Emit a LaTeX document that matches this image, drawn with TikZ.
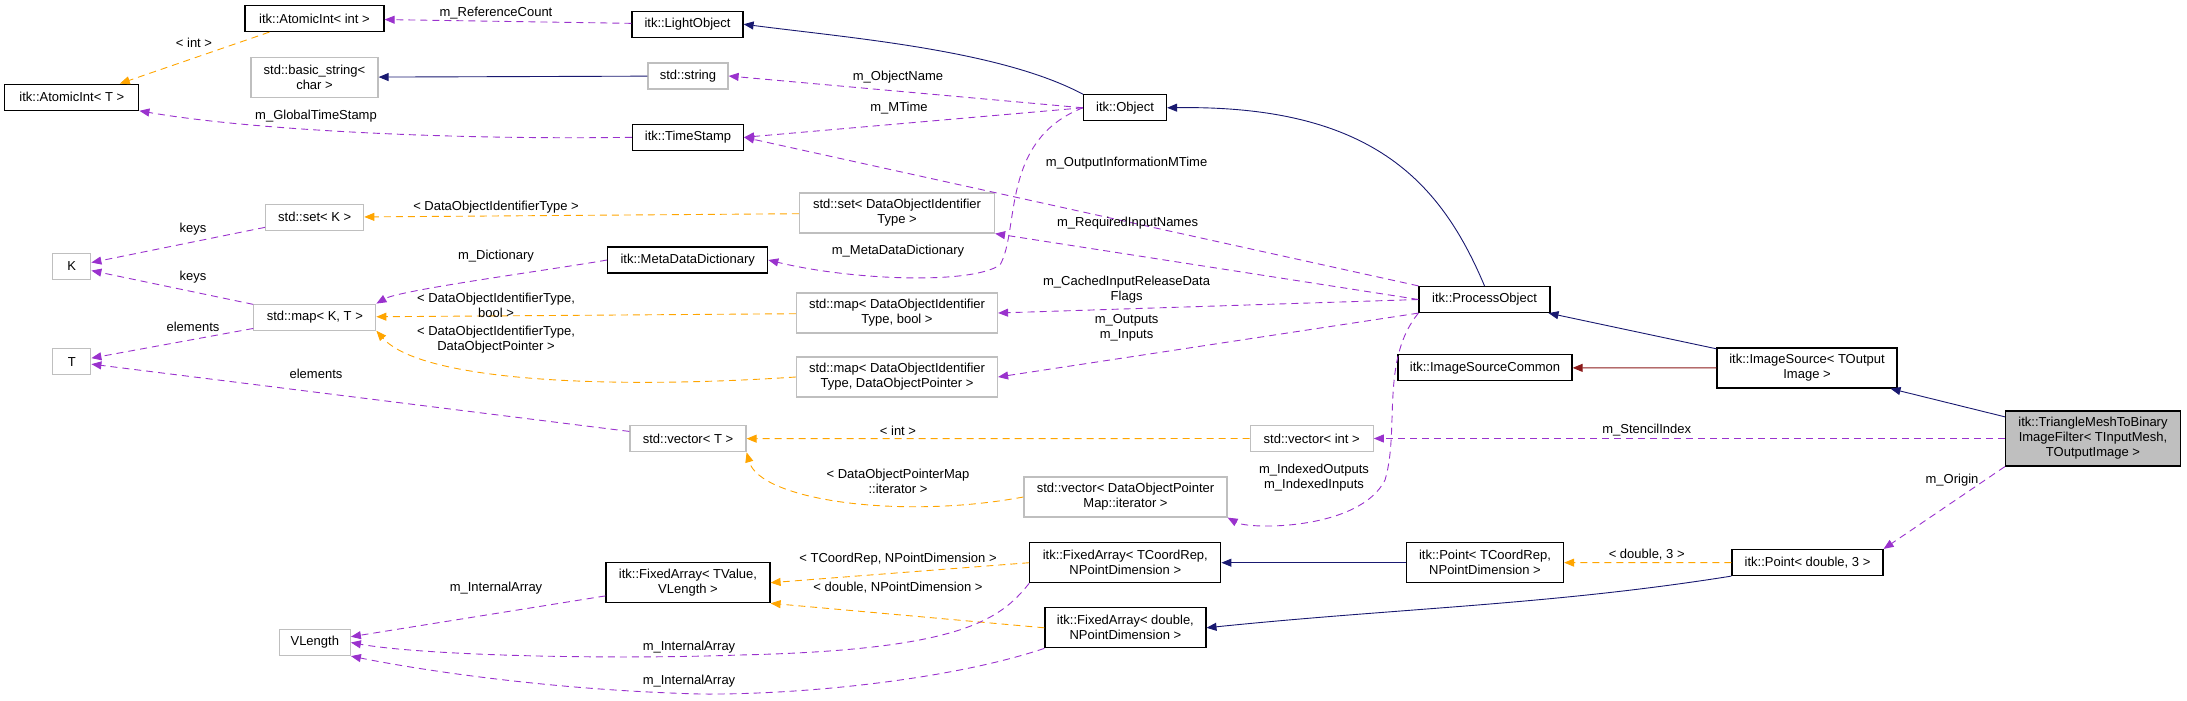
\documentclass[tikz,border=0pt]{standalone}
\usepackage{fontspec}
\setmainfont{Liberation Sans}
\usetikzlibrary{arrows.meta}
\definecolor{pur}{HTML}{9A32CD}
\definecolor{org}{HTML}{FFA500}
\definecolor{nav}{HTML}{191970}
\definecolor{drd}{HTML}{8B1A1A}
\definecolor{gbd}{HTML}{BFBFBF}
\begin{document}
\begin{tikzpicture}[x=1pt,y=-1pt,
  font=\fontsize{13}{15}\selectfont,
  box/.style={draw=black,line width=1.2pt,inner sep=0pt,align=center,minimum height=26pt,fill=white},
  ext/.style={box,draw=gbd},
  two/.style={minimum height=40pt},
  tip/.style={-{Triangle[length=10pt,width=8pt]}},
  mem/.style={tip,draw=pur,dashed,dash pattern=on 7pt off 5pt,line width=0.9pt},
  tpl/.style={tip,draw=org,dashed,dash pattern=on 7pt off 5pt,line width=0.9pt},
  inh/.style={tip,draw=nav,line width=0.9pt},
  inr/.style={tip,draw=drd,line width=0.9pt},
  lab/.style={inner sep=0pt,align=center}]
\useasboundingbox (0,0) rectangle (2187,701);
% nodes
\node[box,minimum width=134pt] (AT) at (71.8,97.2) {itk::AtomicInt< T >};
\node[box,minimum width=139pt] (AI) at (314.5,18.5) {itk::AtomicInt< int >};
\node[box,minimum width=111pt] (LO) at (687.5,24.2) {itk::LightObject};
\node[ext,two,minimum width=127pt] (BS) at (314.5,77.3) {std::basic\_string<\\char >};
\node[ext,minimum width=80pt] (SS) at (688,76) {std::string};
\node[box,minimum width=111pt] (TS) at (688,137.3) {itk::TimeStamp};
\node[ext,minimum width=98pt] (SK) at (314.7,217.3) {std::set< K >};
\node[ext,minimum width=38pt] (K) at (71.8,266.5) {K};
\node[box,minimum width=160pt] (MD) at (687.7,260) {itk::MetaDataDictionary};
\node[ext,minimum width=122pt] (MK) at (314.8,317.2) {std::map< K, T >};
\node[ext,minimum width=38pt] (T) at (71.8,361.7) {T};
\node[ext,minimum width=116pt] (VT) at (688,438.7) {std::vector< T >};
\node[box,two,minimum width=164pt] (FV) at (688,582.7) {itk::FixedArray< TValue,\\VLength >};
\node[ext,minimum width=71pt] (VL) at (314.8,642.5) {VLength};
\node[box,minimum width=83pt] (OB) at (1125,107.8) {itk::Object};
\node[ext,two,minimum width=195pt] (SD) at (897,213) {std::set< DataObjectIdentifier\\Type >};
\node[ext,two,minimum width=201pt] (MB) at (897,313) {std::map< DataObjectIdentifier\\Type, bool >};
\node[ext,two,minimum width=201pt] (MP) at (897,377) {std::map< DataObjectIdentifier\\Type, DataObjectPointer >};
\node[box,minimum width=131pt] (PO) at (1484.5,299.5) {itk::ProcessObject};
\node[ext,minimum width=123pt] (VI) at (1311.7,438.5) {std::vector< int >};
\node[ext,two,minimum width=203pt] (VM) at (1125.5,497) {std::vector< DataObjectPointer\\Map::iterator >};
\node[box,two,minimum width=191pt] (FT) at (1125.3,562.7) {itk::FixedArray< TCoordRep,\\NPointDimension >};
\node[box,two,minimum width=161pt] (FD) at (1125.4,627.8) {itk::FixedArray< double,\\NPointDimension >};
\node[box,minimum width=174pt] (IC) at (1485,367.8) {itk::ImageSourceCommon};
\node[box,two,minimum width=157pt] (PT) at (1485,562.7) {itk::Point< TCoordRep,\\NPointDimension >};
\node[box,two,minimum width=180pt] (IS) at (1807,368) {itk::ImageSource< TOutput\\Image >};
\node[box,minimum width=175pt,minimum height=55pt,fill=gbd] (TM) at (2093,438.5) {itk::TriangleMeshToBinary\\ImageFilter< TInputMesh,\\TOutputImage >};
\node[box,minimum width=151pt] (P3) at (1807.5,562.5) {itk::Point< double, 3 >};
% edges
\draw[mem] (LO) -- (AI);
\coordinate (c1) at ([xshift=25pt]AI.south west);
\coordinate (c2) at ([xshift=48pt]AT.north);
\draw[tpl] (c1) -- (c2);
\draw[inh] (SS) -- (BS);
\draw[mem] (TS.west) .. controls (450,140) and (250,130) .. (AT.south east);
\draw[inh] (OB.north west) .. controls (1000,50) and (850,38) .. (LO.east);
\draw[mem] (OB.west) -- (SS.east);
\draw[mem] (OB.west) -- (TS.east);
\draw[mem] (OB.west) .. controls (1000,140) and (1020,230) .. (1000,265) .. controls (970,285) and (850,280) .. (MD.east);
\draw[inh] (PO.north) .. controls (1440,180) and (1370,105) .. (OB.east);
\draw[mem] (PO.north west) -- (TS.east);
\draw[mem] (PO.west) -- (SD.south east);
\draw[mem] (PO.west) -- (MB.east);
\draw[mem] (PO.south west) -- (MP.east);
\draw[mem] (PO.south west) .. controls (1380,360) and (1400,430) .. (1385,480) .. controls (1360,530) and (1250,530) .. (VM.south east);
\draw[tpl] (SD) -- (SK);
\draw[mem] (SK) -- (K);
\draw[mem] (MK) -- (K);
\draw[mem] (MK) -- (T);
\draw[mem] (MD.west) .. controls (550,270) and (400,290) .. (MK.north east);
\draw[tpl] (MB) -- (MK);
\draw[tpl] (MP.west) .. controls (600,390) and (420,380) .. (MK.south east);
\draw[mem] (VT) -- (T);
\draw[tpl] (VI) -- (VT);
\draw[tpl] (VM.west) .. controls (900,520) and (760,500) .. (VT.south east);
\draw[inh] (IS) -- (PO);
\draw[inr] (IS) -- (IC);
\draw[inh] (TM) -- (IS);
\draw[mem] (TM) -- (VI);
\draw[mem] (TM.south west) -- (P3.north east);
\draw[tpl] (P3) -- (PT);
\draw[inh] (P3.south west) .. controls (1550,605) and (1400,608) .. (FD.east);
\draw[inh] (PT) -- (FT);
\draw[tpl] (FT.west) -- (FV.east);
\draw[tpl] (FD.west) -- (FV.south east);
\draw[mem] (FV) -- (VL);
\draw[mem] (FT.south west) .. controls (1000,620) and (960,650) .. (740,655) .. controls (600,660) and (420,655) .. (VL.east);
\draw[mem] (FD.south west) .. controls (950,680) and (800,695) .. (700,694) .. controls (550,690) and (420,670) .. (VL.south east);
% labels
\node[lab] (l1) at (496,12.7) {m\_ReferenceCount};
\node[lab] (l2) at (194,43) {< int >};
\node[lab] (l3) at (316,115.7) {m\_GlobalTimeStamp};
\node[lab] (l4) at (898,76.7) {m\_ObjectName};
\node[lab] (l5) at (899,108) {m\_MTime};
\node[lab] (l6) at (1126.6,163) {m\_OutputInformationMTime};
\node[lab] (l7) at (1127.6,223) {m\_RequiredInputNames};
\node[lab] (l8) at (898,250.7) {m\_MetaDataDictionary};
\node[lab] (l9) at (1126.6,290) {m\_CachedInputReleaseData\\Flags};
\node[lab] (l10) at (1126.6,328) {m\_Outputs\\m\_Inputs};
\node[lab] (l11) at (496,206.7) {< DataObjectIdentifierType >};
\node[lab] (l12) at (193,228.7) {keys};
\node[lab] (l13) at (193,276.7) {keys};
\node[lab] (l14) at (496,255.7) {m\_Dictionary};
\node[lab] (l15) at (496,305.7) {< DataObjectIdentifierType,\\bool >};
\node[lab] (l16) at (496,340) {< DataObjectIdentifierType,\\DataObjectPointer >};
\node[lab] (l17) at (193,326.7) {elements};
\node[lab] (l18) at (316,374.3) {elements};
\node[lab] (l19) at (496,587.7) {m\_InternalArray};
\node[lab] (l20) at (689,646.7) {m\_InternalArray};
\node[lab] (l21) at (689,680.7) {m\_InternalArray};
\node[lab] (l22) at (898,430.7) {< int >};
\node[lab] (l23) at (898,481.7) {< DataObjectPointerMap\\::iterator >};
\node[lab] (l24) at (1314,477.7) {m\_IndexedOutputs\\m\_IndexedInputs};
\node[lab] (l25) at (898,559.3) {< TCoordRep, NPointDimension >};
\node[lab] (l26) at (898,587.7) {< double, NPointDimension >};
\node[lab] (l27) at (1646.7,430.3) {m\_StencilIndex};
\node[lab] (l28) at (1952,480.3) {m\_Origin};
\node[lab] (l29) at (1646.7,555) {< double, 3 >};
\end{tikzpicture}
\end{document}
